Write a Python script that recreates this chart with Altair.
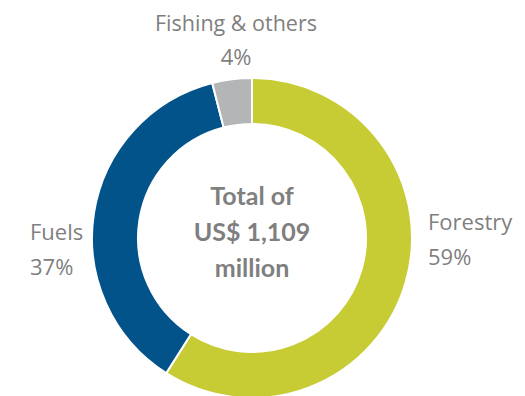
import altair as alt
import pandas as pd

categories = ["Forestry", "Fuels", "Fishing & others"]
shares = [59, 37, 4]
colors = ["#C8CC34", "#02538A", "#B4B5B7"]
center_lines = ["Total of", "US$ 1,109", "million"]

df = pd.DataFrame({"category": categories, "share": shares, "order": list(range(len(categories)))})

W, H = 509, 388
CX, CY = 244, 230

donut = alt.Chart(df).mark_arc(
    outerRadius=160, innerRadius=114, stroke="white", strokeWidth=2
).encode(
    theta=alt.Theta("share:Q", stack=True),
    color=alt.Color("category:N", scale=alt.Scale(domain=categories, range=colors), legend=None),
    order=alt.Order("order:Q"),
    x=alt.value(CX),
    y=alt.value(CY),
)

TEXT_COLOR = "#7f7f7f"

def label(text, x, y, align="center", size=22, weight="normal", font="Open Sans"):
    return alt.Chart(pd.DataFrame({"t": [text]})).mark_text(
        align=align, baseline="middle", font=font, fontSize=size,
        fontWeight=weight, color=TEXT_COLOR
    ).encode(text="t:N", x=alt.value(x), y=alt.value(y))

layers = [donut,
          label(categories[2], 228, 17, size=21.5),
          label(f"{shares[2]}%", 228, 50),
          label(categories[1], 22, 225, align="left"),
          label(f"{shares[1]}%", 22, 260, align="left"),
          label(categories[0], 420, 215, align="left"),
          label(f"{shares[0]}%", 420, 250, align="left")]
for i, line in enumerate(center_lines):
    layers.append(label(line, 244, 189 + i * 36, size=25, weight="bold", font="Lato"))

chart = alt.layer(*layers).properties(
    width=W, height=H,
    autosize=alt.AutoSizeParams(type="fit", contains="padding"),
    padding=0,
).configure_view(stroke=None)

chart.save("out.html", embed_options={"renderer": "svg", "actions": False})
